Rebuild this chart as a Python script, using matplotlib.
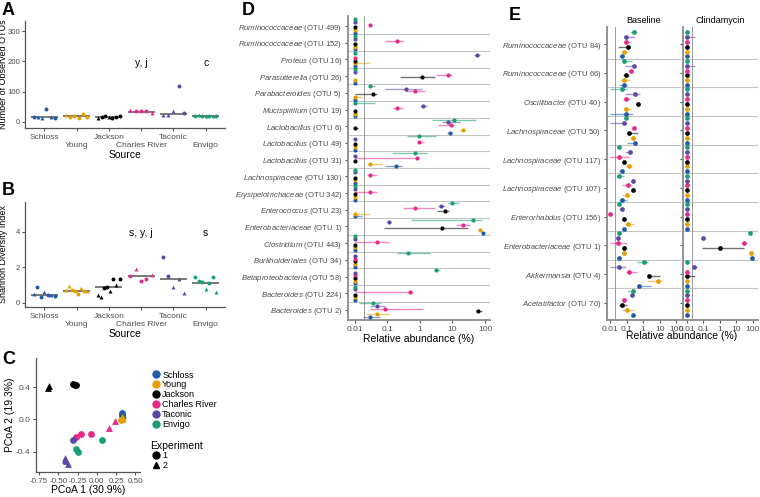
import numpy as np
import matplotlib.pyplot as plt
from matplotlib.lines import Line2D

plt.rcParams['font.family'] = ['Liberation Sans', 'DejaVu Sans']
plt.rcParams['mathtext.fontset'] = 'custom'
plt.rcParams['mathtext.it'] = 'Liberation Sans:italic'
plt.rcParams['mathtext.rm'] = 'Liberation Sans'

vendors = ['Schloss', 'Young', 'Jackson', 'Charles River', 'Taconic', 'Envigo']
colors = ['#1F5BA6', '#E69F00', '#000000', '#E7298A', '#5A4AA3', '#1B9E77']

# ---- panel A: observed OTUs (left to right within each source), experiment 1/2
otus_schloss = [15, 15, 14, 42, 17, 14]
otus_young = [22, 15, 18, 12, 25, 17]
otus_jackson = [13, 17, 20, 17, 12, 15, 18]
otus_cr = [40, 37, 36, 36, 30]
otus_taconic = [22, 22, 35, 118, 28]
otus_envigo = [20, 22, 19, 21, 18, 20, 19]
otus_med = [15, 18, 15, 34, 27, 20]

# ---- panel B: Shannon diversity
shan_schloss = [0.46, 0.89, 0.32, 0.58, 0.42, 0.42, 0.40]
shan_young = [0.74, 0.93, 0.70, 0.67, 0.48, 0.84, 0.65, 0.67]
shan_jackson = [0.44, 0.30, 0.84, 0.89, 0.65, 1.31, 1.0, 1.35]
shan_cr = [1.5, 1.93, 1.25, 1.36, 1.57]
shan_taconic = [2.57, 1.52, 0.87, 1.35, 0.55]
shan_envigo = [1.46, 1.21, 1.15, 0.78, 1.10, 1.44, 0.59]
shan_med = [0.42, 0.67, 0.88, 1.5, 1.31, 1.13]

# experiment of each point (1 = circle, 2 = triangle)
exp_a = [[1, 2, 2, 1, 2, 1], [2, 1, 1, 1, 1, 1], [2, 1, 1, 2, 1, 1, 1],
         [2, 1, 1, 1, 2], [2, 2, 2, 1, 1], [1, 2, 1, 2, 1, 2, 1]]
exp_b = [[2, 1, 1, 2, 1, 2, 1], [2, 2, 1, 1, 1, 2, 1, 2], [2, 2, 1, 1, 2, 1, 2, 1],
         [1, 2, 1, 1, 2], [1, 1, 2, 2, 2], [1, 1, 1, 2, 1, 1, 2]]
sig_a = {'Charles River': 'y, j', 'Envigo': 'c'}
sig_b = {'Charles River': 's, y, j', 'Envigo': 's'}

# ---- panel C: PCoA
pc_schloss = ([0.32, 0.33, 0.34, 0.33], [0.08, 0.05, 0.06, 0.07], [1, 1, 2, 2])
pc_young = ([0.33, 0.32, 0.34, 0.31], [0.03, 0.0, 0.02, -0.01], [2, 2, 2, 1])
pc_jackson = ([-0.31, -0.29, -0.27, -0.63, -0.62], [0.44, 0.43, 0.43, 0.39, 0.41], [1, 1, 1, 2, 2])
pc_cr = ([-0.27, -0.21, -0.07, 0.16, 0.23], [-0.22, -0.18, -0.18, -0.11, -0.02], [1, 1, 1, 2, 2])
pc_taconic = ([-0.31, -0.41, -0.42, -0.38, -0.40], [-0.26, -0.48, -0.50, -0.55, -0.52], [1, 2, 2, 2, 2])
pc_envigo = ([-0.27, -0.25, 0.07], [-0.37, -0.40, -0.26], [1, 1, 1])

# ---- panel D: median (IQR) relative abundance per source
d_labels = [('Ruminococcaceae', 499), ('Ruminococcaceae', 152), ('Proteus', 16),
            ('Parasutterella', 26), ('Parabacteroides', 5), ('Mucispirillum', 19),
            ('Lactobacillus', 6), ('Lactobacillus', 49), ('Lactobacillus', 31),
            ('Lachnospiraceae', 130), ('Erysipelotrichaceae', 342), ('Enterococcus', 23),
            ('Enterobacteriaceae', 1), ('Clostridium', 443), ('Burkholderiales', 34),
            ('Betaproteobacteria', 58), ('Bacteroides', 224), ('Bacteroides', 2)]
z = (0.01, 0.01, 0.01)
d_envigo = [z, z, z, z, (0.03, 0.028, 0.043), (0.01, 0.01, 0.043), (11.5, 2.4, 52),
            (0.93, 0.4, 3.2), (0.7, 0.14, 1.66), z, z, (9.8, 7.2, 16), (43, 0.55, 78),
            z, (0.45, 0.2, 2.1), (3.2, 2.7, 4.2), z, (0.038, 0.014, 0.066)]
d_taconic = [z, z, (55, 45, 70), z, (0.37, 0.087, 1.2), (1.23, 1.0, 1.7), (7.2, 4.8, 16.7),
             z, z, z, z, (4.6, 3.6, 6.1), (0.11, 0.093, 0.13), z, z, z, z, (0.048, 0.03, 0.087)]
d_cr = [(0.03, 0.027, 0.034), (0.2, 0.087, 0.32), z, (7.4, 3.2, 9.7), (0.72, 0.36, 1.4),
        (0.2, 0.15, 0.31), (9.3, 3.6, 11), (0.93, 0.82, 1.3), (0.82, 0.01, 0.85),
        (0.03, 0.024, 0.05), (0.03, 0.01, 0.048), (0.72, 0.3, 3.0), (21, 12.4, 34),
        (0.05, 0.01, 0.11), z, z, (0.49, 0.01, 0.62), (0.087, 0.03, 1.25)]
d_jackson = [z, z, z, (1.17, 0.25, 2.9), (0.038, 0.01, 0.048), z, (0.01, 0.01, 0.013),
             z, z, z, z, (6.1, 3.4, 8.1), (4.9, 0.081, 29), z, z, z, z, (61, 51, 78)]
d_young = [z, z, (0.01, 0.01, 0.03), z, (0.01, 0.01, 0.017), z, (21.6, 17, 25), z,
           (0.029, 0.024, 0.069), z, z, (0.01, 0.01, 0.03), (72, 63, 80), z, z, z, z,
           (0.048, 0.022, 0.11)]
d_schloss = [z, z, z, z, z, z, (8.7, 6.6, 9.8), z, (0.19, 0.087, 0.28), z, z,
             (0.01, 0.01, 0.017), (86, 80, 95), z, z, z, z, (0.029, 0.018, 0.061)]

# ---- panel E: baseline vs clindamycin
e_labels = [('Ruminococcaceae', 84), ('Ruminococcaceae', 66), ('Oscillibacter', 40),
            ('Lachnospiraceae', 50), ('Lachnospiraceae', 117), ('Lachnospiraceae', 107),
            ('Enterorhabdus', 156), ('Enterobacteriaceae', 1), ('Akkermansia', 4),
            ('Acetatifactor', 70)]
e_base_envigo = [(0.28, 0.16, 0.4), (0.072, 0.05, 0.2), (0.05, 0.01, 0.11), (0.09, 0.08, 0.1),
                 (0.032, 0.026, 0.04), (0.032, 0.026, 0.07), (0.032, 0.026, 0.045),
                 (0.032, 0.026, 0.04), (1.1, 0.4, 2.0), (0.25, 0.11, 0.32)]
e_base_taconic = [(0.091, 0.07, 0.32), (0.28, 0.08, 0.36), (0.32, 0.08, 0.63), (0.072, 0.01, 0.1),
                  (0.15, 0.08, 0.2), (0.25, 0.25, 0.25), (0.052, 0.036, 0.063),
                  (0.029, 0.029, 0.029), (0.032, 0.01, 0.09), (0.22, 0.16, 0.29)]
e_base_cr = [(0.09, 0.07, 0.16), (0.18, 0.13, 0.25), (0.09, 0.063, 0.16), (0.28, 0.2, 0.36),
             (0.033, 0.01, 0.13), (0.126, 0.05, 0.17), (0.01, 0.008, 0.012),
             (0.029, 0.01, 0.1), (0.14, 0.09, 0.44), (0.069, 0.06, 0.08)]
e_base_jackson = [(0.115, 0.03, 0.16), (0.09, 0.058, 0.13), (0.5, 0.45, 0.55), (0.14, 0.11, 0.5),
                  (0.072, 0.072, 0.072), (0.23, 0.23, 0.23), (0.072, 0.072, 0.072),
                  (0.072, 0.06, 0.09), (2.3, 2.0, 11), (0.05, 0.033, 0.11)]
e_base_young = [(0.072, 0.06, 0.1), (0.072, 0.04, 0.16), (0.09, 0.058, 0.17), (0.23, 0.16, 0.36),
                (0.14, 0.11, 0.2), (0.11, 0.05, 0.16), (0.115, 0.08, 0.28),
                (0.072, 0.072, 0.072), (8, 1.6, 14), (0.11, 0.05, 0.28)]
e_base_schloss = [(0.05, 0.033, 0.063), (0.072, 0.036, 0.1), (0.09, 0.01, 0.23), (0.33, 0.11, 0.44),
                  (0.05, 0.036, 0.063), (0.05, 0.032, 0.11), (0.072, 0.058, 0.09),
                  (0.032, 0.032, 0.032), (0.58, 0.4, 2.8), (0.25, 0.25, 0.25)]
e_clin_envigo = [z, z, z, z, z, z, z, (69, 50, 90), z, z]
e_clin_taconic = [(0.01, 0.01, 0.03), (0.01, 0.01, 0.03), z, z, z, z, z, (0.1, 0.1, 0.1),
                  (0.029, 0.023, 0.045), z]
e_clin_cr = [z, z, z, z, z, z, z, (29, 22, 35), (0.01, 0.01, 0.014), z]
e_clin_jackson = [z, z, z, z, z, z, z, (1.0, 0.09, 31), (0.01, 0.01, 0.03), z]
e_clin_young = [z, z, z, z, z, z, z, (79, 79, 79), z, z]
e_clin_schloss = [z, z, z, z, z, z, z, (91, 91, 91), z, z]

GREY = '#4d4d4d'
TICK = 6


def style_axes(ax):
    for s in ['top', 'right']:
        ax.spines[s].set_visible(False)
    for s in ['left', 'bottom']:
        ax.spines[s].set_color('#555555')
        ax.spines[s].set_linewidth(0.9)
    ax.tick_params(colors='#555555', labelcolor=GREY, labelsize=TICK, length=2.5, width=0.8,
                   pad=1.5)


def strip_plot(ax, groups, exps, meds, sig, ylabel, yticks, ylim, sig_y):
    for i, (vals, ex) in enumerate(zip(groups, exps)):
        xs = i + 1 + np.linspace(-0.33, 0.33, len(vals))
        for x, v, e in zip(xs, vals, ex):
            ax.scatter(x, v, s=8, color=colors[i], marker='o' if e == 1 else '^',
                       linewidths=0, zorder=3)
        ax.hlines(meds[i], i + 1 - 0.42, i + 1 + 0.42, color='#555555', lw=1.1, zorder=2)
        if vendors[i] in sig:
            ax.text(i + 1, sig_y, sig[vendors[i]], ha='center', va='center', fontsize=7.5)
    ax.set_xlim(0.4, 6.6)
    ax.set_ylim(*ylim)
    ax.set_yticks(yticks)
    ax.set_xticks(range(1, 7))
    ax.set_xticklabels([v if k % 2 == 0 else '\n' + v for k, v in enumerate(vendors)])
    style_axes(ax)
    ax.tick_params(axis='y', labelsize=5.6, pad=1)
    ax.set_ylabel(ylabel, fontsize=6.5)
    ax.yaxis.set_label_coords(-0.083, 0.5)
    ax.set_xlabel('Source', fontsize=7.5, labelpad=1)


fig = plt.figure(figsize=(7.6, 4.97), dpi=100)
W, H = 760, 497


def px_axes(l, t, r, b):
    return fig.add_axes([l / W, 1 - b / H, (r - l) / W, (b - t) / H])


# A
ax_a = px_axes(25, 21, 225, 128)
strip_plot(ax_a, [otus_schloss, otus_young, otus_jackson, otus_cr, otus_taconic, otus_envigo],
           exp_a, otus_med, sig_a, 'Number of Observed OTUs', [0, 100, 200, 300], (-20, 333), 195)

# B
ax_b = px_axes(25, 202, 225, 307)
strip_plot(ax_b, [shan_schloss, shan_young, shan_jackson, shan_cr, shan_taconic, shan_envigo],
           exp_b, shan_med, sig_b, 'Shannon Diversity Index', [0, 2, 4], (-0.25, 5.7), 3.96)

# C
ax_c = px_axes(36, 358, 140, 472)
for k, (xs, ys, ex) in enumerate([pc_schloss, pc_young, pc_jackson, pc_cr, pc_taconic, pc_envigo]):
    for x, y, e in zip(xs, ys, ex):
        ax_c.scatter(x, y, s=24, color=colors[k], marker='o' if e == 1 else '^',
                     linewidths=0, zorder=3)
ax_c.set_xlim(-0.79, 0.56)
ax_c.set_ylim(-0.65, 0.76)
ax_c.set_xticks([-0.75, -0.5, -0.25, 0, 0.25, 0.5])
ax_c.set_xticklabels(['-0.75', '-0.50', '-0.25', '0.00', '0.25', '0.50'])
ax_c.set_yticks([-0.4, 0, 0.4])
ax_c.set_yticklabels(['-0.4', '0.0', '0.4'])
style_axes(ax_c)
ax_c.tick_params(axis='x', labelsize=5.8)
ax_c.set_xlabel('PCoA 1 (30.9%)', fontsize=7.5, labelpad=0.5)
ax_c.set_ylabel('PCoA 2 (19.3%)', fontsize=7.5, labelpad=0.5)

h1 = [Line2D([], [], ls='', marker='o', ms=5, color=c) for c in colors]
fig.legend(h1, vendors, loc='upper left', bbox_to_anchor=(146 / W, 1 - 366 / H),
           frameon=False, fontsize=6.5, handletextpad=0.1, labelspacing=0.1,
           handlelength=1.2, borderpad=0)
h2 = [Line2D([], [], ls='', marker=m, ms=5, color='black') for m in ['o', '^']]
leg2 = fig.legend(h2, ['1', '2'], title='Experiment', loc='upper left',
                  bbox_to_anchor=(146 / W, 1 - 436 / H), frameon=False, fontsize=6.5,
                  title_fontsize=7.5, handletextpad=0.1, labelspacing=0.1,
                  handlelength=1.2, borderpad=0)
leg2._legend_box.align = 'left'


def otu_label(name, num):
    return r'$\mathit{' + name + r'}$ (OTU ' + str(num) + ')'


def abundance_panel(ax, series, labels, dodge, ms, xlim, show_labels=True):
    n = len(labels)
    for i in range(n - 1):
        ax.axhline(i + 0.5, color='#c4c4c4', lw=0.8, zorder=1)
    ax.axvline(0.02, color='#9a9a9a', lw=0.7, zorder=1)
    for k, rows in enumerate(series):
        off = (2.5 - k) * dodge
        ys = np.arange(n) + off
        med = np.array([r[0] for r in rows])
        lo = np.array([r[1] for r in rows])
        hi = np.array([r[2] for r in rows])
        ax.hlines(ys, lo, hi, color=colors[k], alpha=0.55, lw=1.0, zorder=2)
        ax.plot(med, ys, ls='', marker='o', ms=ms, color=colors[k], mec='none', zorder=3)
    ax.set_xscale('log')
    ax.set_xlim(*xlim)
    ax.set_ylim(n - 1 + 0.6, -0.6)
    ax.set_xticks([0.01, 0.1, 1, 10, 100])
    ax.set_xticklabels(['0.01', '0.1', '1', '10', '100'])
    ax.minorticks_off()
    ax.set_yticks(range(n))
    if show_labels:
        ax.set_yticklabels([otu_label(a, b) for a, b in labels])
    else:
        ax.set_yticklabels([])
        ax.tick_params(axis='y', length=0)
    for s in ['top', 'right']:
        ax.spines[s].set_visible(False)
    for s in ['left', 'bottom']:
        ax.spines[s].set_color('#8a8a8a')
        ax.spines[s].set_linewidth(1.3)
    ax.tick_params(colors='#555555', labelcolor=GREY, labelsize=TICK, length=2.5, width=0.8,
                   pad=1.5)
    ax.tick_params(axis='y', labelsize=5.6, pad=1.5)


# D
ax_d = px_axes(348, 16, 490, 320)
abundance_panel(ax_d, [d_schloss, d_young, d_jackson, d_cr, d_taconic, d_envigo],
                d_labels, 0.16, 3.0, (10 ** -2.2, 10 ** 2.15))
ax_d.set_xlabel('Relative abundance (%)', fontsize=7.5, labelpad=1)

# E
ax_e1 = px_axes(607, 27, 681, 320)
abundance_panel(ax_e1, [e_base_schloss, e_base_young, e_base_jackson, e_base_cr,
                        e_base_taconic, e_base_envigo], e_labels, 0.17, 3.4,
                (10 ** -2.2, 10 ** 2.3))
ax_e1.set_title('Baseline', fontsize=6.5, pad=3)
ax_e2 = px_axes(683, 27, 758, 320)
abundance_panel(ax_e2, [e_clin_schloss, e_clin_young, e_clin_jackson, e_clin_cr,
                        e_clin_taconic, e_clin_envigo], e_labels, 0.17, 3.4,
                (10 ** -2.22, 10 ** 2.32), show_labels=False)
ax_e2.set_title('Clindamycin', fontsize=6.5, pad=3)
fig.text(682 / W, 1 - 336 / H, 'Relative abundance (%)', ha='center', va='center', fontsize=7.5)

# panel letters
for letter, x, y in [('A', 2, 2), ('B', 2, 182), ('C', 2, 351), ('D', 242, 2), ('E', 509, 7)]:
    fig.text(x / W, 1 - y / H, letter, ha='left', va='top', fontsize=13, fontweight='bold')

fig.savefig('out.png', dpi=100)
